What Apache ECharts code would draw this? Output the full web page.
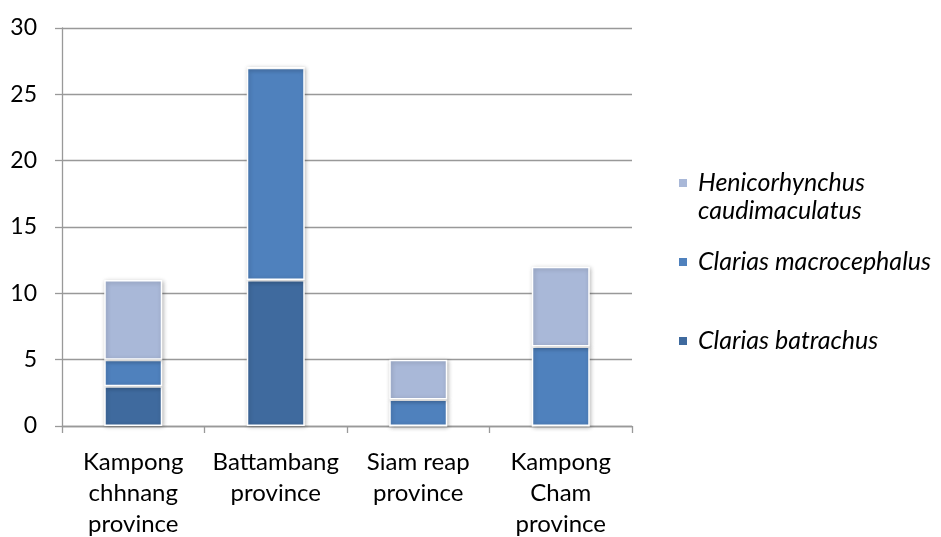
<!DOCTYPE html>
<html>
<head>
<meta charset="utf-8">
<script src="https://cdn.jsdelivr.net/npm/echarts@6/dist/echarts.min.js"></script>
<style>
  html, body { margin: 0; padding: 0; background: #fff; }
  #chart { width: 941px; height: 537px; }
</style>
</head>
<body>
<div id="chart"></div>
<script>
// Provinces along the x axis
const provinces = ['Kampong\nchhnang\nprovince', 'Battambang\nprovince', 'Siam reap\nprovince', 'Kampong\nCham\nprovince'];
// Species counts per province (stacked bottom to top)
const clariasBatrachus = [3, 11, 0, 0];
const clariasMacrocephalus = [2, 16, 2, 6];
const henicorhynchus = [6, 0, 3, 6];
const speciesNames = ['Clarias batrachus', 'Clarias macrocephalus', 'Henicorhynchus caudimaculatus'];
const speciesColors = ['#3F6A9E', '#4F81BD', '#A9B8D8'];

const FONT = 'Lato';
const chart = echarts.init(document.getElementById('chart'));

function barSeries(name, data, color) {
  return {
    name: name,
    type: 'bar',
    stack: 'total',
    barWidth: 58,
    data: data,
    itemStyle: {
      color: color,
      borderColor: '#fff',
      borderWidth: 1.5,
      shadowBlur: 4,
      shadowOffsetX: 1,
      shadowOffsetY: 1,
      shadowColor: 'rgba(0,0,0,0.25)'
    }
  };
}

const legendText = {
  fontFamily: FONT, fontSize: 25, fontStyle: 'italic', color: '#000',
  lineHeight: 28, padding: [0, 0, 0, 5]
};

function legendFor(name, top, formatter) {
  const lg = {
    data: [name],
    orient: 'vertical',
    left: 672,
    top: top,
    icon: 'rect',
    itemWidth: 10,
    itemHeight: 10,
    selectedMode: false,
    textStyle: legendText
  };
  if (formatter) lg.formatter = formatter;
  return lg;
}

chart.setOption({
  animation: false,
  backgroundColor: '#fff',
  grid: { left: 62, right: 309, top: 28, bottom: 111, containLabel: false, outerBoundsMode: 'none' },
  legend: [
    // the long name wraps; the swatch sits beside its first line
    legendFor(speciesNames[2], 136, function () { return '\nHenicorhynchus\ncaudimaculatus'; }),
    legendFor(speciesNames[1], 243),
    legendFor(speciesNames[0], 322)
  ],
  xAxis: {
    type: 'category',
    data: provinces,
    axisLine: { lineStyle: { color: '#999', width: 1.3 } },
    axisTick: { show: true, length: 7, lineStyle: { color: '#999', width: 1.3 } },
    axisLabel: { fontFamily: FONT, fontSize: 24, color: '#000', lineHeight: 31, margin: 21, interval: 0 }
  },
  yAxis: {
    type: 'value',
    min: 0,
    max: 30,
    interval: 5,
    axisLine: { show: true, lineStyle: { color: '#999', width: 1.3 } },
    axisTick: { show: true, length: 7, lineStyle: { color: '#999', width: 1.3 } },
    splitLine: { lineStyle: { color: '#999', width: 1.3 } },
    axisLabel: { fontFamily: FONT, fontSize: 23, color: '#000', margin: 25 }
  },
  series: [
    barSeries(speciesNames[0], clariasBatrachus, speciesColors[0]),
    barSeries(speciesNames[1], clariasMacrocephalus, speciesColors[1]),
    barSeries(speciesNames[2], henicorhynchus, speciesColors[2])
  ]
});
</script>
</body>
</html>
